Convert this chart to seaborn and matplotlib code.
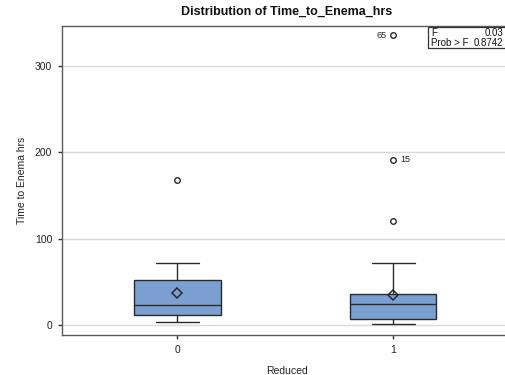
import matplotlib
matplotlib.use("Agg")
import matplotlib.pyplot as plt
import seaborn as sns
import pandas as pd
from matplotlib.patches import Rectangle

# ---- data ----
reduced_0 = [3.5, 5, 8, 11.3, 13, 17, 23.3, 25, 28, 52.3, 61.4, 71.7, 168]
reduced_1 = [1.2, 1.5, 2, 2.5, 3, 3.5, 4, 5, 5.5, 6, 7, 7.5, 8, 9, 10, 11, 12,
             14, 16, 18, 24, 24.5, 25, 25.5, 26, 26.5, 27, 28, 29, 30, 36, 38,
             40, 42, 45, 50, 52.1, 71.7, 120, 191.5, 336]
categories = ["0", "1"]
outlier_group = ["1", "1"]
outlier_value = [336, 191.5]
outlier_id = ["65", "15"]
stat_names = ["F", "Prob > F"]
stat_values = ["0.03", "0.8742"]
y_ticks = [0, 100, 200, 300]

df = pd.DataFrame({
    "Reduced": ["0"] * len(reduced_0) + ["1"] * len(reduced_1),
    "Time": reduced_0 + reduced_1,
})

sns.set_theme(style="white")
plt.rcParams["font.family"] = ["Liberation Sans", "DejaVu Sans"]

fig = plt.figure(figsize=(5.05, 3.75), dpi=100)
ax = fig.add_axes([62 / 505, 1 - 335 / 375, 450 / 505, 309 / 375])

edge = "#2b2b2b"
sns.boxplot(
    data=df, x="Reduced", y="Time", order=categories, ax=ax,
    width=0.4, color="#7a9fd0", saturation=1, linewidth=1.0, linecolor=edge,
    whis=1.5, showmeans=True,
    meanprops=dict(marker="D", markerfacecolor="none", markeredgecolor=edge,
                   markersize=5, markeredgewidth=1.1),
    flierprops=dict(marker="o", markerfacecolor="none", markeredgecolor=edge,
                    markersize=4, markeredgewidth=1.0),
    medianprops=dict(color=edge, linewidth=1.0),
    boxprops=dict(edgecolor=edge),
)

ax.set_xlim(-0.535, 1.55)
ax.set_ylim(-11.5, 346.5)
ax.set_yticks(y_ticks)
ax.yaxis.grid(True, color="#dadada", linewidth=1)
ax.set_axisbelow(True)

for s in ["left", "bottom", "top"]:
    ax.spines[s].set_visible(True)
    ax.spines[s].set_color("#5a5a5a")
    ax.spines[s].set_linewidth(1)
ax.spines["right"].set_visible(False)

ax.tick_params(axis="both", which="both", length=3, width=1, color="#333333",
               labelsize=7.5, labelcolor="#222222", left=True, bottom=True, pad=4)
ax.set_xlabel("Reduced", fontsize=7.5, color="#222222", labelpad=8)
ax.set_ylabel("Time to Enema hrs", fontsize=7.5, color="#222222", labelpad=6)
ax.set_title("Distribution of Time_to_Enema_hrs", fontsize=9, fontweight="bold",
             color="#111111", pad=8)

for g, v, lab in zip(outlier_group, outlier_value, outlier_id):
    xi = categories.index(g)
    if lab == "65":
        ax.annotate(lab, xy=(xi, v), xytext=(-5, 0), textcoords="offset points",
                    ha="right", va="center", fontsize=6.5, color="#222222")
    else:
        ax.annotate(lab, xy=(xi, v), xytext=(5, 0), textcoords="offset points",
                    ha="left", va="center", fontsize=6.5, color="#222222")

# statistics inset
fig.patches.append(Rectangle((428 / 505, 1 - 48 / 375), 0.2, 21 / 375,
                             transform=fig.transFigure, fill=False,
                             edgecolor="#333333", linewidth=0.9))
ys = [1 - 33.5 / 375, 1 - 43 / 375]
for nm, val, yy in zip(stat_names, stat_values, ys):
    fig.text(431 / 505, yy, nm, fontsize=7, ha="left", va="center", color="#111111")
    fig.text(503 / 505, yy, val, fontsize=7, ha="right", va="center", color="#111111")

fig.savefig("out.png", dpi=100)
